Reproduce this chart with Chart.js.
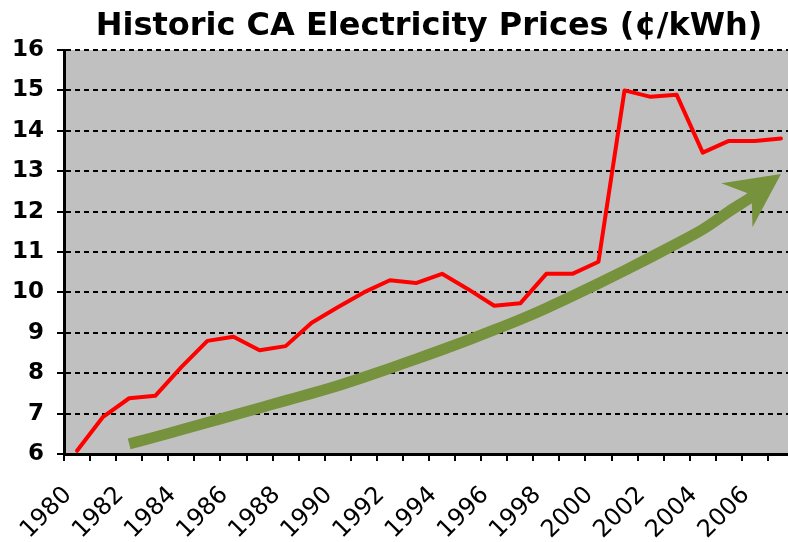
<!DOCTYPE html>
<html>
<head>
<meta charset="utf-8">
<title>Historic CA Electricity Prices</title>
<script src="https://cdn.jsdelivr.net/npm/chart.js@4.4.1/dist/chart.umd.min.js"></script>
<style>
  html, body { margin: 0; padding: 0; background: #fff; overflow: hidden; }
  #wrap { width: 794px; height: 542px; }
</style>
</head>
<body>
<div id="wrap"><canvas id="priceChart"></canvas></div>
<script>
// Average retail price, cents per kWh
const years = [
  '1980', '1981', '1982', '1983', '1984', '1985', '1986', '1987', '1988', '1989',
  '1990', '1991', '1992', '1993', '1994', '1995', '1996', '1997', '1998', '1999',
  '2000', '2001', '2002', '2003', '2004', '2005', '2006', '2007'
];
const prices = [
  6.08, 6.92, 7.38, 7.44, 8.15, 8.80, 8.90, 8.57, 8.67, 9.25,
  9.63, 10.00, 10.30, 10.23, 10.46, 10.08, 9.67, 9.73, 10.46, 10.46,
  10.76, 15.00, 14.84, 14.89, 13.46, 13.75, 13.75, 13.81
];
// Upward trend arrow; last value is where the arrow tip sits
const trend = [
  null, null, 6.25, 6.42, 6.60, 6.78, 6.96, 7.14, 7.32, 7.50,
  7.69, 7.90, 8.12, 8.35, 8.58, 8.82, 9.07, 9.33, 9.61, 9.91,
  10.22, 10.54, 10.87, 11.21, 11.56, 12.00, 12.42, 12.93
];
const yMin = 6;
const yMax = 16;

const PRICE_COLOR = '#FF0000';
const TREND_COLOR = '#76923C';
const PLOT_BG = '#C0C0C0';
const FONT = 'DejaVu Sans';

// gray plot area behind the grid
const plotBackground = {
  id: 'plotBackground',
  beforeDraw(chart) {
    const { ctx, chartArea: a } = chart;
    ctx.save();
    ctx.fillStyle = PLOT_BG;
    ctx.fillRect(a.left, a.top, a.right - a.left, a.bottom - a.top);
    ctx.restore();
  }
};

// stealth-style arrow head on the end of the trend line
const arrowHead = {
  id: 'arrowHead',
  afterDatasetsDraw(chart) {
    const pts = chart.getDatasetMeta(1).data;
    const tip = pts[pts.length - 1];
    const back = pts[pts.length - 4];
    const dx = tip.x - back.x;
    const dy = tip.y - back.y;
    const len = Math.hypot(dx, dy);
    const ux = dx / len, uy = dy / len;
    const nx = -uy, ny = ux;
    const L = 54, W = 27, N = 36;
    const ctx = chart.ctx;
    ctx.save();
    ctx.fillStyle = TREND_COLOR;
    ctx.beginPath();
    ctx.moveTo(tip.x, tip.y);
    ctx.lineTo(tip.x - L * ux + W * nx, tip.y - L * uy + W * ny);
    ctx.lineTo(tip.x - N * ux, tip.y - N * uy);
    ctx.lineTo(tip.x - L * ux - W * nx, tip.y - L * uy - W * ny);
    ctx.closePath();
    ctx.fill();
    ctx.restore();
  }
};

const lastIdx = years.length - 1;

new Chart(document.getElementById('priceChart'), {
  type: 'line',
  data: {
    labels: years,
    datasets: [
      {
        label: 'Price',
        data: prices,
        borderColor: PRICE_COLOR,
        borderWidth: 4,
        pointRadius: 0,
        tension: 0,
        borderJoinStyle: 'round',
        borderCapStyle: 'round'
      },
      {
        label: 'Trend',
        data: trend,
        borderColor: TREND_COLOR,
        borderWidth: 11,
        pointRadius: 0,
        cubicInterpolationMode: 'monotone',
        borderCapStyle: 'butt',
        segment: {
          // the head covers the final stretch
          borderColor: c => (c.p1DataIndex === lastIdx ? 'rgba(0,0,0,0)' : TREND_COLOR)
        }
      }
    ]
  },
  options: {
    responsive: true,
    maintainAspectRatio: false,
    animation: false,
    layout: { padding: 0 },
    plugins: {
      legend: { display: false },
      tooltip: { enabled: false },
      title: {
        display: true,
        fullSize: false,
        text: 'Historic CA Electricity Prices (¢/kWh)',
        color: '#000',
        font: { family: FONT, size: 32, weight: 'bold', lineHeight: 1.2 },
        padding: { top: 7, bottom: 4.6 }
      }
    },
    scales: {
      x: {
        offset: true,
        grid: {
          offset: true,
          drawOnChartArea: false,
          color: '#000',
          lineWidth: 2,
          tickLength: 7
        },
        border: { color: '#000', width: 3 },
        ticks: {
          autoSkip: false,
          minRotation: 45,
          maxRotation: 45,
          color: '#000',
          padding: 20,
          labelOffset: -9,
          font: { family: FONT, size: 24 },
          callback: (v, i) => (i % 2 === 0 ? years[i] : '')
        },
        afterFit: s => {
          s.height = 88;
          s.paddingLeft = 0;
          s.paddingRight = 0;
        }
      },
      y: {
        min: yMin,
        max: yMax,
        grid: {
          color: '#000',
          lineWidth: 2,
          tickLength: 7
        },
        border: { color: '#000', width: 3, dash: [5, 4] },
        ticks: {
          stepSize: 1,
          color: '#000',
          padding: 13,
          font: { family: FONT, size: 23, weight: 'bold' }
        },
        afterFit: s => { s.width = 64; }
      }
    }
  },
  plugins: [plotBackground, arrowHead]
});
</script>
</body>
</html>
